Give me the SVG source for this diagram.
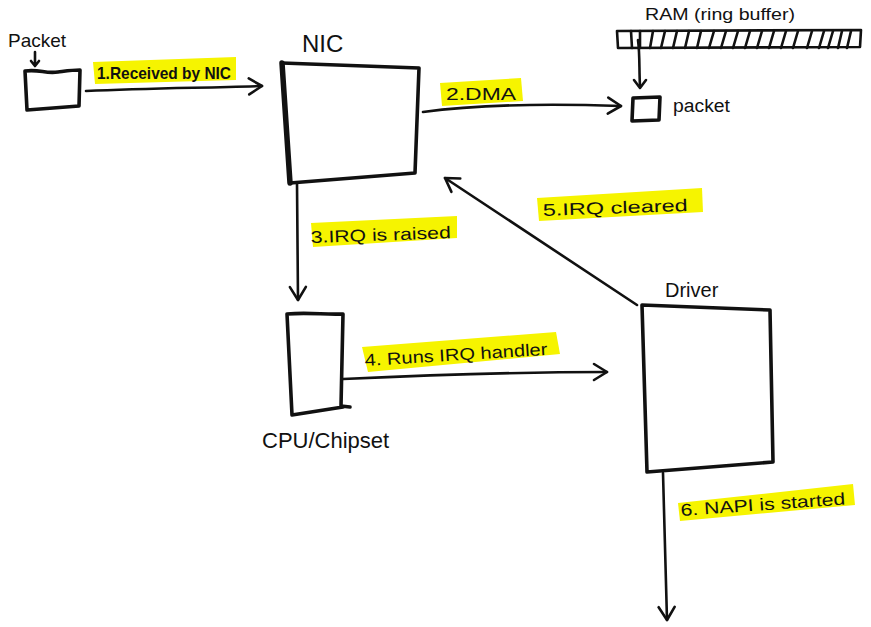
<svg xmlns="http://www.w3.org/2000/svg" width="871" height="627" viewBox="0 0 871 627">
<style>
.ln{fill:none;stroke:#111;stroke-width:2.6;stroke-linecap:round;stroke-linejoin:round}
.bx{fill:none;stroke:#111;stroke-width:3.6;stroke-linecap:round;stroke-linejoin:round}
.hl{fill:#f6f400}
.t{font-family:"Liberation Sans",Arial,sans-serif;fill:#111}
.lb{font-family:"Liberation Sans",Arial,sans-serif;fill:#111;font-size:17px}
</style>
<defs>
<marker id="ah" viewBox="0 0 20 20" refX="17" refY="10" markerWidth="20" markerHeight="20" markerUnits="userSpaceOnUse" orient="auto">
<path d="M4,2 L17,10 L4,18" fill="none" stroke="#111" stroke-width="2.6" stroke-linecap="round" stroke-linejoin="round"/>
</marker>
</defs>
<rect width="871" height="627" fill="#fff"/>

<g id="packet-in">
<path class="bx" d="M25,71 C40,69 45,74 58,72 C66,71 72,70 80,70 L79,106 L27,110 Z"/>
<text class="t" x="8" y="47" font-size="19">Packet</text>
<path class="ln" d="M35,52 L35,65 M31,61 L35,66 L39,61" stroke-width="1.6"/>
</g>

<g id="nic">
<path class="bx" d="M282,63 L419,68 L415,173 L290,183"/>
<path d="M282,63 L290,183" fill="none" stroke="#111" stroke-width="5.5" stroke-linecap="round"/>
<text class="t" x="302" y="52" font-size="24">NIC</text>
</g>

<g id="ram">
<text class="t" x="645" y="20" font-size="17" textLength="150" lengthAdjust="spacingAndGlyphs">RAM (ring buffer)</text>
<path class="ln" d="M617,31 L861,30 L860,47 L618,48 Z" stroke-width="2.2"/>
<path class="ln" stroke-width="2" d="M631,31 L632,48 M640,31 L640,48 M653,31 L650,48 M665,31 L661,48 M677,31 L673,48 M689,31 L685,48 M701,31 L697,48 M714,31 L709,48 M726,31 L721,48 M738,31 L733,48 M750,31 L745,48 M762,31 L757,48 M774,31 L769,48 M786,31 L781,48 M798,31 L793,48 M812,31 L807,48 M824,31 L819,48 M833,31 L828,48 M842,31 L838,48 M851,31 L847,48"/>
<path class="ln" d="M638,40 C640,55 639,70 640,86" stroke-width="2"/>
<path class="ln" d="M634,80 L640,88 L646,80" stroke-width="2"/>
</g>

<g id="packet-ram">
<path class="bx" d="M633,98 L660,97 L659,120 L632,121 Z" stroke-width="2.8"/>
<text class="t" x="673" y="112" font-size="18" textLength="57" lengthAdjust="spacingAndGlyphs">packet</text>
</g>

<g id="cpu">
<path class="bx" d="M287,314 C310,312 325,315 343,314 L341,406 L350,407 M343,407 L292,415 L287,314" stroke-width="3"/>
<text class="t" x="262" y="448" font-size="22">CPU/Chipset</text>
</g>

<g id="driver">
<path class="bx" d="M642,305 L770,310 L773,462 L647,472 Z" stroke-width="3.4"/>
<text class="t" x="665" y="297" font-size="20">Driver</text>
</g>

<g id="connectors">
<path class="ln" d="M86,91 C150,88 200,88 262,86" stroke-width="3" marker-end="url(#ah)"/>
<path class="ln" d="M423,112 C480,104 560,104 621,106" marker-end="url(#ah)"/>
<path class="ln" d="M297,183 L298,300" marker-end="url(#ah)"/>
<path class="ln" d="M343,379 C430,375 520,372 607,372" marker-end="url(#ah)"/>
<path class="ln" d="M637,305 L445,178" marker-end="url(#ah)"/>
<path class="ln" d="M663,473 L667,620" marker-end="url(#ah)"/>
</g>

<g id="labels">
<polygon class="hl" points="93,62 236,57 236,80 95,84"/>
<text class="lb" x="97" y="79" font-size="15" font-weight="bold" textLength="134" lengthAdjust="spacingAndGlyphs">1.Received by NIC</text>
<polygon class="hl" points="440,83 521,78 523,101 442,106"/>
<text class="lb" x="446" y="100" font-size="18" textLength="70" lengthAdjust="spacingAndGlyphs">2.DMA</text>
<polygon class="hl" points="311,223 457,216 457,238 313,247"/>
<text class="lb" x="311" y="243" font-size="18" transform="rotate(-2 311 243)" textLength="140" lengthAdjust="spacingAndGlyphs">3.IRQ is raised</text>
<polygon class="hl" points="362,347 556,332 560,354 368,372"/>
<text class="lb" x="365" y="366" font-size="18" transform="rotate(-3.5 365 366)" textLength="183" lengthAdjust="spacingAndGlyphs">4. Runs IRQ handler</text>
<polygon class="hl" points="537,198 702,188 703,212 539,221"/>
<text class="lb" x="543" y="216" font-size="19" transform="rotate(-2 543 216)" textLength="145" lengthAdjust="spacingAndGlyphs">5.IRQ cleared</text>
<polygon class="hl" points="678,503 853,484 855,505 680,521"/>
<text class="lb" x="681" y="516" font-size="17" transform="rotate(-4 681 516)" textLength="165" lengthAdjust="spacingAndGlyphs">6. NAPI is started</text>
</g>
</svg>
